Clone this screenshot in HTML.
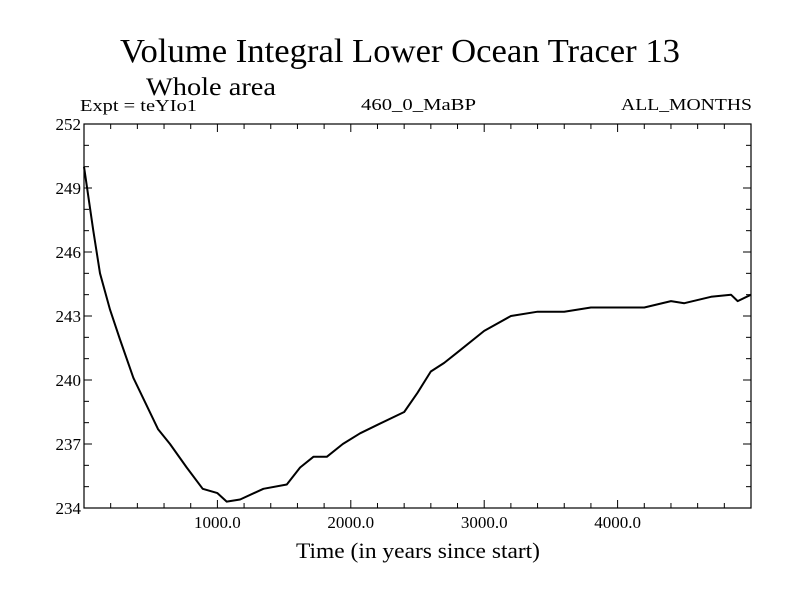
<!DOCTYPE html>
<html><head><meta charset="utf-8"><style>
body{margin:0;background:#fff}
svg{display:block;font-family:"Liberation Serif",serif}
</style></head><body>
<svg id="chart" width="800" height="600">
<text x="120" y="62" font-size="34" textLength="560" lengthAdjust="spacingAndGlyphs">Volume Integral Lower Ocean Tracer 13</text>
<text x="146" y="95" font-size="25" textLength="130" lengthAdjust="spacingAndGlyphs">Whole area</text>
<text x="80" y="111" font-size="17" textLength="117" lengthAdjust="spacingAndGlyphs">Expt = teYIo1</text>
<text x="361" y="110" font-size="17" textLength="115" lengthAdjust="spacingAndGlyphs">460_0_MaBP</text>
<text x="621" y="110" font-size="17" textLength="131" lengthAdjust="spacingAndGlyphs">ALL_MONTHS</text>
<text x="296" y="558" font-size="22" textLength="244" lengthAdjust="spacingAndGlyphs">Time (in years since start)</text>
<g id="axes"></g>
<path id="series" fill="none" stroke="#000" stroke-width="2" stroke-linejoin="round"></path>
</svg>
<script>
const times=[0,70,120,195,270,370,555,645,770,890,1000,1070,1170,1345,1520,1620,1720,1820,1940,2070,2200,2400,2500,2600,2700,2800,3000,3200,3400,3600,3800,4000,4200,4400,4500,4700,4850,4900,5000];
const values=[250,247.0,245.0,243.3,241.9,240.1,237.7,237.0,235.9,234.9,234.7,234.3,234.4,234.9,235.1,235.9,236.4,236.4,237.0,237.5,237.9,238.5,239.4,240.4,240.8,241.3,242.3,243.0,243.2,243.2,243.4,243.4,243.4,243.7,243.6,243.9,244.0,243.7,244.0];
const yTicks=[234,237,240,243,246,249,252];
const xTicks=[1000,2000,3000,4000];
const L=84,R=751,T=124,B=508;
const xs=t=>L+(t/5000)*(R-L);
const ys=v=>B-(v-234)/18*(B-T);
const ns="http://www.w3.org/2000/svg";
const g=document.getElementById('axes');
function mk(tag,attrs){const e=document.createElementNS(ns,tag);for(const k in attrs)e.setAttribute(k,attrs[k]);g.appendChild(e);return e;}
const frame=mk('rect',{x:L,y:T,width:R-L,height:B-T,fill:'none',stroke:'#000','stroke-width':1.2});


for(let t=0;t<=5000;t+=200){const len=t%1000===0?8:5;
 const a=mk('line',{x1:xs(t),x2:xs(t),y1:B,y2:B-len,stroke:'#000'});
 
 
 const b=mk('line',{x1:xs(t),x2:xs(t),y1:T,y2:T+len,stroke:'#000'});
 
 }
for(let v=234;v<=252;v+=1){const len=(v-234)%3===0?8:5;
 const a=mk('line',{x1:L,x2:L+len,y1:ys(v),y2:ys(v),stroke:'#000'});
 
 
 const b=mk('line',{x1:R,x2:R-len,y1:ys(v),y2:ys(v),stroke:'#000'});
 
 }
xTicks.forEach(t=>{const e=mk('text',{x:xs(t),y:B+20,'font-size':17,'text-anchor':'middle'});e.textContent=t.toFixed(1);
 
 });
yTicks.forEach(v=>{const e=mk('text',{x:L-3,y:ys(v)+6,'font-size':17,'text-anchor':'end'});e.textContent=v;
 
 });
document.getElementById('series').setAttribute('d',times.map((t,i)=>(i?'L':'M')+xs(t).toFixed(1)+','+ys(values[i]).toFixed(1)).join(''));
</script>
</body></html>
